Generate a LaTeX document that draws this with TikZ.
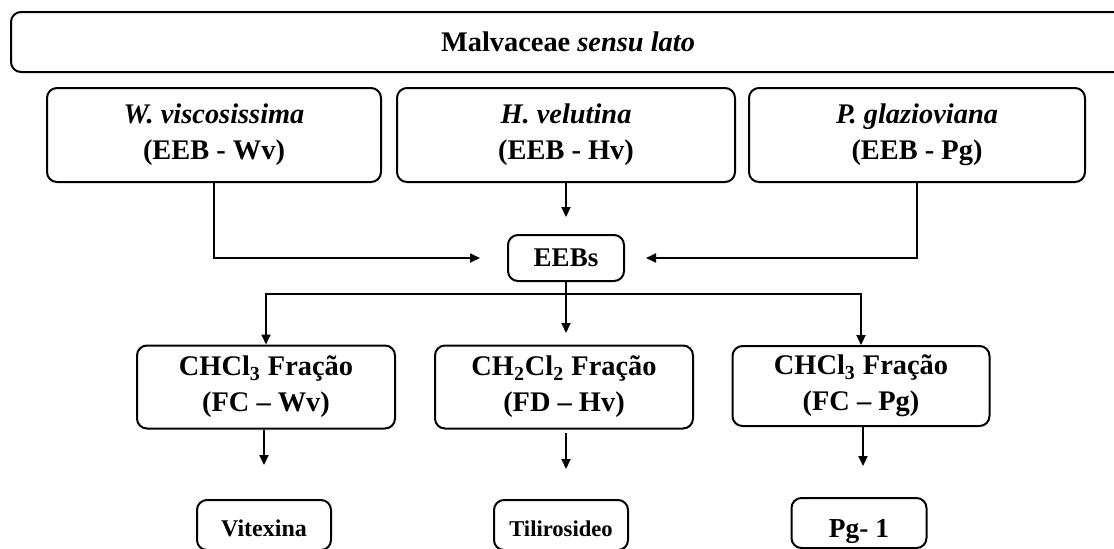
\documentclass[tikz,border=0pt]{standalone}
\usepackage{fontspec}
\setmainfont{Liberation Serif}
\usetikzlibrary{arrows.meta,positioning}

\begin{document}
\begin{tikzpicture}[x=0.5pt, y=-0.5pt, line width=1pt, >={Triangle[length=5pt,width=4.5pt]}]
		\useasboundingbox (0,0) rectangle (1114,548);
		\clip (0,0) rectangle (1114,548);
		\begin{scope}[every node/.style={draw, rounded corners=5pt, align=center, inner sep=2pt, font=\fontsize{14.2}{18}\selectfont\bfseries}]
			\node[minimum width=557pt, minimum height=30pt] (mal) at (568,42) {Malvaceae \textit{sensu lato}};
			\node[minimum width=167pt, minimum height=47pt] (wv) at (214,135) {\textit{W. viscosissima}\\(EEB - Wv)};
			\node[minimum width=169pt, minimum height=47pt] (hv) at (566,135) {\textit{H. velutina}\\(EEB - Hv)};
			\node[minimum width=168pt, minimum height=47pt] (pg) at (917,135) {\textit{P. glazioviana}\\(EEB - Pg)};
			\node[minimum width=58pt, minimum height=23pt, font=\fontsize{13.5}{16}\selectfont\bfseries] (eeb) at (566,258) {EEBs};
			\node[minimum width=129pt, minimum height=41.5pt] (fcw) at (266,387) {CHCl\textsubscript{3} Fração\\(FC -- Wv)};
			\node[minimum width=129pt, minimum height=41.5pt] (fdh) at (564,387) {CH\textsubscript{2}Cl\textsubscript{2} Fração\\(FD -- Hv)};
			\node[minimum width=128.5pt, minimum height=40pt] (fcp) at (861,386) {CHCl\textsubscript{3} Fração\\(FC -- Pg)};
		\end{scope}
		\begin{scope}[every node/.style={draw, rounded corners=5pt, inner sep=2pt, minimum height=25pt, text height=12pt, text depth=0.5pt}]
			\node[minimum width=67pt, font=\fontsize{12}{14}\selectfont\bfseries] (vit) at (264,525) {Vitexina};
			\node[minimum width=67pt, font=\fontsize{11.3}{14}\selectfont\bfseries] (til) at (561,525) {Tilirosideo};
			\node[minimum width=67.5pt, text height=14.5pt, font=\fontsize{13.7}{16}\selectfont\bfseries] (pg1) at (859,523) {Pg- 1};
		\end{scope}
		% free ends of the arrows
		\coordinate (inL) at (480,258);
		\coordinate (inM) at (566,217);
		\coordinate (inR) at (646,258);
		\coordinate (split) at (566,294);
		\coordinate (outM) at (566,333);
		\coordinate (topM) at (566,433);
		\coordinate (tipL) at (264,465);
		\coordinate (tipM) at (566,469);
		\coordinate (tipR) at (863,466);
		\begin{scope}
			\draw[->] (wv.south) |- (inL);
			\draw[->] (hv.south) -- (inM);
			\draw[->] (pg.south) |- (inR);
			\draw[->] (eeb.south) -- (outM);
			\draw[->] (split) -| (fcw.north);
			\draw[->] (split) -| (fcp.north);
			\draw[->] (fcw.south -| tipL) -- (tipL);
			\draw[->] (topM) -- (tipM);
			\draw[->] (fcp.south -| tipR) -- (tipR);
		\end{scope}
	\end{tikzpicture}
\end{document}
